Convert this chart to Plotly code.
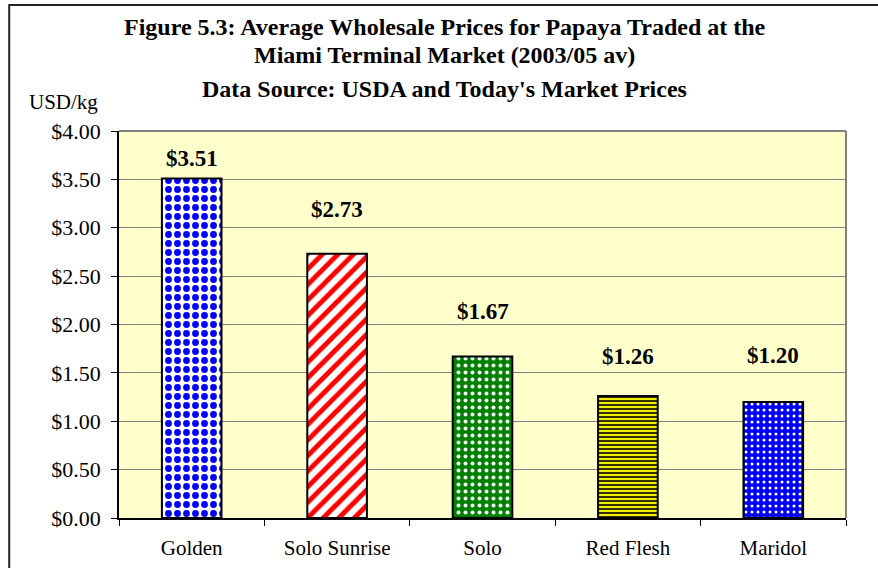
import plotly.graph_objects as go

categories = ["Golden", "Solo Sunrise", "Solo", "Red Flesh", "Maridol"]
prices = [3.51, 2.73, 1.67, 1.26, 1.20]
label_texts = ["$3.51", "$2.73", "$1.67", "$1.26", "$1.20"]
y_ticks = [0, 0.5, 1.0, 1.5, 2.0, 2.5, 3.0, 3.5, 4.0]
y_tick_labels = ["$0.00", "$0.50", "$1.00", "$1.50", "$2.00", "$2.50", "$3.00", "$3.50", "$4.00"]

pattern_shapes = [".", "/", ".", "-", "."]
pattern_fg = ["#0000FF", "#FF0000", "#FFFFFF", "#333300", "#FFFFFF"]
pattern_bg = ["#FFFFFF", "#FFFFFF", "#008000", "#F0F000", "#0000FF"]
pattern_size = [9, 11, 7, 4, 6]
pattern_solidity = [0.45, 0.45, 0.25, 0.5, 0.2]
label_shift = [20, 44, 45, 40, 46]

FONT = "Liberation Serif, Times New Roman, serif"

fig = go.Figure()
for c, v, shp, fg, bg, sz, sol in zip(categories, prices, pattern_shapes, pattern_fg,
                                       pattern_bg, pattern_size, pattern_solidity):
    fig.add_trace(go.Bar(
        x=[c], y=[v],
        marker=dict(
            color=bg,
            line=dict(color="black", width=2),
            pattern=dict(shape=shp, fgcolor=fg, fgopacity=1, size=sz,
                         solidity=sol, fillmode="overlay"),
        ),
        width=0.41,
        name=c,
        hoverinfo="x+y",
    ))

annotations = []
for c, v, t, s in zip(categories, prices, label_texts, label_shift):
    annotations.append(dict(x=c, y=v, text="<b>%s</b>" % t, showarrow=False,
                            xref="x", yref="y", yanchor="middle", xanchor="center", yshift=s,
                            font=dict(family=FONT, size=23, color="black")))

annotations += [
    dict(x=0.448, y=1.269, xref="paper", yref="paper", showarrow=False,
         xanchor="center", yanchor="middle",
         text="<b>Figure 5.3: Average Wholesale Prices for Papaya Traded at the</b>",
         font=dict(family=FONT, size=24, color="black")),
    dict(x=0.448, y=1.196, xref="paper", yref="paper", showarrow=False,
         xanchor="center", yanchor="middle",
         text="<b>Miami Terminal Market (2003/05 av)</b>",
         font=dict(family=FONT, size=24, color="black")),
    dict(x=0.448, y=1.109, xref="paper", yref="paper", showarrow=False,
         xanchor="center", yanchor="middle",
         text="<b>Data Source: USDA and Today's Market Prices</b>",
         font=dict(family=FONT, size=24, color="black")),
    dict(x=-0.0757, y=1.075, xref="paper", yref="paper", showarrow=False,
         xanchor="center", yanchor="middle",
         text="USD/kg", font=dict(family=FONT, size=21, color="black")),
]

shapes = [
    dict(type="rect", xref="paper", yref="paper", x0=-0.151, x1=1.06, y0=-0.15, y1=1.3256,
         line=dict(color="#222222", width=2), fillcolor="rgba(0,0,0,0)", layer="below"),
    dict(type="line", xref="paper", yref="paper", x0=0, x1=1, y0=1, y1=1,
         line=dict(color="#808080", width=2)),
    dict(type="line", xref="paper", yref="paper", x0=1, x1=1, y0=0, y1=1,
         line=dict(color="#808080", width=2)),
]

fig.update_layout(
    width=878, height=568,
    margin=dict(l=119, r=32, t=131, b=50),
    paper_bgcolor="white",
    plot_bgcolor="#FFFFCC",
    showlegend=False,
    barmode="overlay",
    font=dict(family=FONT, size=21, color="black"),
    annotations=annotations,
    shapes=shapes,
    xaxis=dict(
        showgrid=False, showline=True, linecolor="black", linewidth=1.5,
        ticks="outside", tickson="boundaries", ticklen=6, tickcolor="black",
        ticklabelstandoff=10, automargin=False,
        tickfont=dict(family=FONT, size=21, color="black"),
    ),
    yaxis=dict(
        range=[0, 4], tickvals=y_ticks, ticktext=y_tick_labels,
        showgrid=True, gridcolor="#808080", gridwidth=1,
        showline=True, linecolor="black", linewidth=1.5,
        ticks="outside", ticklen=6, tickcolor="black",
        ticklabelstandoff=6, automargin=False,
        tickfont=dict(family=FONT, size=22, color="black"),
        zeroline=False,
    ),
)

fig.write_html("out.html", config={"displayModeBar": False},
               post_script="document.body.style.margin='0px';")
